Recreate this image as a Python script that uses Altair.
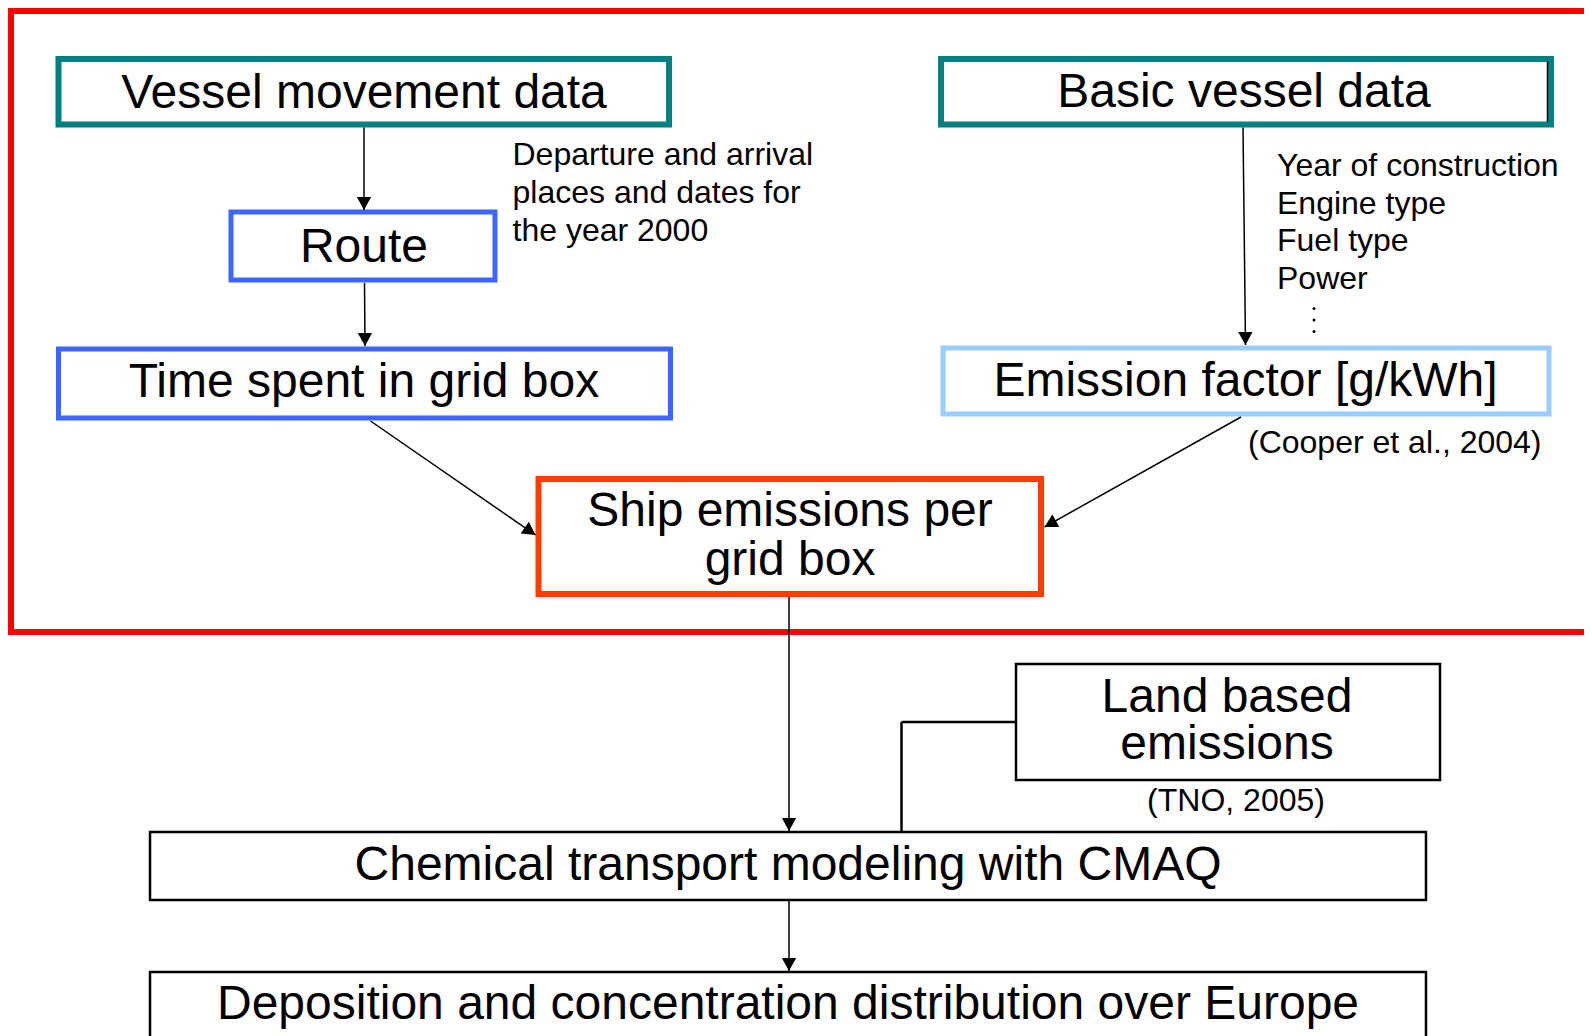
import math
import altair as alt
import pandas as pd

# ---- canvas (page pixel coordinates) ----
W, H = 1576, 1028
X0, Y0 = 8, 8

# ---- boxes ----
box_names = ["frame", "vessel", "basic", "route", "time", "emis", "ship", "land", "cmaq", "depo"]
box_x1 = [11, 58.5, 941, 231, 58.5, 943, 538.5, 1016, 150, 150]
box_x2 = [1700, 669, 1551, 495, 670.5, 1549, 1041, 1440, 1426, 1426]
box_y1 = [11, 59, 59, 212, 349, 348, 479, 664, 832, 972]
box_y2 = [632, 124.5, 124.5, 280, 418, 414, 594, 780, 900, 1100]
box_color = ["#ff0000", "#008080", "#008080", "#3d66ff", "#3d66ff", "#99ccff",
             "#ff3c00", "#000000", "#000000", "#000000"]
box_sw = [6, 6, 6, 5, 5, 5, 6, 2.5, 2.5, 2.5]

# ---- connector segments ----
seg_x1 = [364, 364.5, 1243, 370.5, 1241, 789, 789, 1015, 901.5, 1547.5]
seg_y1 = [127.5, 283, 127.5, 421, 417, 597, 900, 722, 722, 61]
seg_x2 = [364, 365, 1245.5, 535.5, 1044.5, 789, 789, 901.5, 901.5, 1547.5]
seg_y2 = [210, 346, 345, 535, 527, 831, 971, 722, 832, 122]
seg_arrow = [True, True, True, True, True, True, True, False, False, False]
seg_sw = [1.5, 1.5, 1.5, 1.5, 1.5, 1.5, 1.5, 2.5, 2.5, 1.5]

# ---- centred big labels ----
big_text = ["Vessel movement data", "Basic vessel data", "Route", "Time spent in grid box",
            "Emission factor [g/kWh]", "Ship emissions per", "grid box", "Land based",
            "emissions", "Chemical transport modeling with CMAQ",
            "Deposition and concentration distribution over Europe", "(TNO, 2005)"]
big_x = [364, 1244, 364, 364, 1245.5, 790, 790, 1227, 1227, 788, 788, 1236]
big_y = [108, 107, 261.5, 396.5, 396, 526, 575, 711.5, 759, 880, 1019, 810.5]
big_fs = [48, 48, 48, 48, 48, 48, 48, 48, 48, 48, 48, 32]

# ---- left-aligned notes ----
note_text = ["Departure and arrival", "places and dates for", "the year 2000",
             "Year of construction", "Engine type", "Fuel type", "Power",
             "(Cooper et al., 2004)"]
note_x = [512.5, 512.5, 512.5, 1277, 1277, 1277, 1277, 1248]
note_y = [165, 203, 241, 175.5, 213.5, 251, 289, 453]

# vertical ellipsis dots
dot_x = [1314, 1314, 1314]
dot_y = [308.5, 320, 331.5]

boxes = pd.DataFrame(dict(name=box_names, x1=box_x1, x2=box_x2, y1=box_y1, y2=box_y2,
                          color=box_color, sw=box_sw))
segs = pd.DataFrame(dict(x1=seg_x1, y1=seg_y1, x2=seg_x2, y2=seg_y2, sw=seg_sw))
heads = segs[seg_arrow].copy()
heads["ang"] = [
    (math.degrees(math.atan2(-(r.x2 - r.x1), (r.y2 - r.y1))) + 360) % 360
    for r in heads.itertuples()
]
big = pd.DataFrame(dict(t=big_text, x=big_x, y=big_y, fs=big_fs))
notes = pd.DataFrame(dict(t=note_text, x=note_x, y=note_y))
dots = pd.DataFrame(dict(x=dot_x, y=dot_y))

xs = alt.Scale(domain=[X0, X0 + W], nice=False, zero=False)
ys = alt.Scale(domain=[Y0, Y0 + H], nice=False, zero=False, reverse=True)

rects = alt.Chart(boxes).mark_rect(filled=False, clip=True).encode(
    x=alt.X("x1:Q", scale=xs, axis=None), x2="x2:Q",
    y=alt.Y("y1:Q", scale=ys, axis=None), y2="y2:Q",
    stroke=alt.Stroke("color:N", scale=None),
    strokeWidth=alt.StrokeWidth("sw:Q", scale=None),
)

lines = alt.Chart(segs).mark_rule(color="black", clip=True).encode(
    x=alt.X("x1:Q", scale=xs, axis=None), x2="x2:Q",
    y=alt.Y("y1:Q", scale=ys, axis=None), y2="y2:Q",
    strokeWidth=alt.StrokeWidth("sw:Q", scale=None),
)

arrow_shape = "M0,0 L-0.55,-1 L0.55,-1 Z"
arrows = alt.Chart(heads).mark_point(
    shape=arrow_shape, filled=True, opacity=1, color="black", size=676, strokeWidth=0
).encode(
    x=alt.X("x2:Q", scale=xs, axis=None),
    y=alt.Y("y2:Q", scale=ys, axis=None),
    angle=alt.Angle("ang:Q", scale=None),
)

dot_layer = alt.Chart(dots).mark_circle(size=9, color="black", opacity=1).encode(
    x=alt.X("x:Q", scale=xs, axis=None),
    y=alt.Y("y:Q", scale=ys, axis=None),
)

big_layer = alt.Chart(big).mark_text(
    font="Liberation Sans", baseline="alphabetic", align="center", color="black"
).encode(
    x=alt.X("x:Q", scale=xs, axis=None),
    y=alt.Y("y:Q", scale=ys, axis=None),
    text="t:N",
    size=alt.Size("fs:Q", scale=None),
)

note_layer = alt.Chart(notes).mark_text(
    font="Liberation Sans", baseline="alphabetic", align="left", color="black", fontSize=32
).encode(
    x=alt.X("x:Q", scale=xs, axis=None),
    y=alt.Y("y:Q", scale=ys, axis=None),
    text="t:N",
)

chart = alt.layer(rects, lines, arrows, dot_layer, big_layer, note_layer).properties(
    width=W, height=H, padding=0, autosize=alt.AutoSizeParams(type="none")
).configure_view(strokeWidth=0)

chart.save("out.html", embed_options={"renderer": "svg", "actions": False})
